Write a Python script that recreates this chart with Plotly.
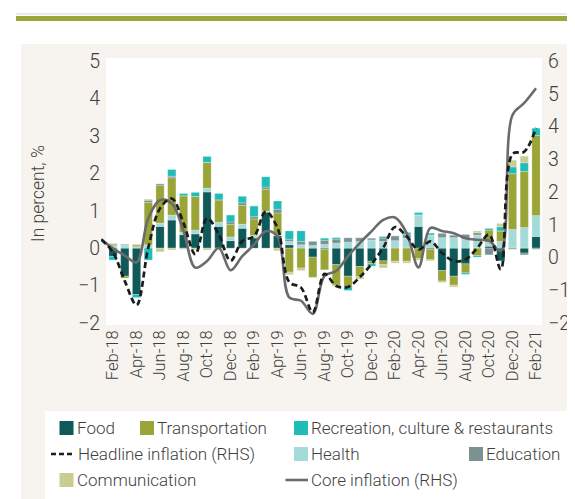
import plotly.graph_objects as go

# ---------------- data ----------------
months = ["Feb-18", "Mar-18", "Apr-18", "May-18", "Jun-18", "Jul-18", "Aug-18", "Sep-18",
          "Oct-18", "Nov-18", "Dec-18", "Jan-19", "Feb-19", "Mar-19", "Apr-19", "May-19",
          "Jun-19", "Jul-19", "Aug-19", "Sep-19", "Oct-19", "Nov-19", "Dec-19", "Jan-20",
          "Feb-20", "Mar-20", "Apr-20", "May-20", "Jun-20", "Jul-20", "Aug-20", "Sep-20",
          "Oct-20", "Nov-20", "Dec-20", "Jan-21", "Feb-21"]
line_months = ["Jan-18"] + months

food = [-0.22, -0.75, -1.24, 0, 0.58, 0.75, 0.36, 0.38, 1.50, 0.58, 0.20, 0.53, 0.27, 0.96, 0.33,
        0.09, 0, -0.24, -0.03, -0.44, -0.75, -0.49, -0.35, -0.34, 0, 0, 0.58, -0.03, -0.60, -0.75,
        -0.42, 0, 0.05, -0.34, 0, -0.13, 0.31]
health = [0.06, 0.08, 0.04, 0.09, 0.09, 0.13, 0.07, 0.10, 0.10, 0.11, 0.10, 0.11, 0.07, 0.03, 0.03,
          0.09, 0.09, 0.07, 0.10, 0.13, 0.16, 0.18, 0.22, 0.18, 0.20, 0.27, 0.31, 0.35, 0.28, 0.28,
          0.24, 0.35, 0.10, 0.18, 0.50, 0.55, 0.56]
transport = [0.03, -0.05, 0.05, 1.13, 1.00, 1.00, 0.97, 0.90, 0.69, 0.60, 0.33, 0.50, 0.44, 0.58, 0.58,
             -0.64, -0.53, -0.54, -0.55, -0.55, -0.29, -0.27, -0.06, -0.10, -0.35, -0.35, -0.28, -0.28,
             -0.28, -0.24, -0.24, -0.20, 0.33, 0.28, 1.49, 1.50, 2.14]
education = [0.02, 0.03, 0, 0.06, 0.05, 0.04, 0, 0, 0, 0, 0.07, 0.07, 0.06, 0.06, 0.10, 0.06, 0.09,
             0.12, 0.11, 0.11, 0.12, 0.10, 0.05, 0.09, 0.13, 0.09, 0, 0, 0.12, 0.07, 0.13, 0.06, -0.18,
             0, -0.03, -0.05, -0.03]
recreation = [-0.10, 0, -0.08, -0.32, 0, 0.18, 0.06, 0.11, 0.16, 0.17, 0.19, 0.18, 0.29, 0.28, 0.22,
              0.22, 0.28, 0, 0.06, 0.04, -0.09, 0, -0.07, 0.04, 0, 0.06, 0.06, 0.05, 0, 0, -0.04, -0.04,
              0.05, 0.11, 0.18, 0.23, 0.20]
communication = [0.02, 0, 0.02, 0.03, -0.10, -0.05, -0.03, -0.04, -0.05, -0.03, 0, 0, 0, 0, -0.07,
                 -0.07, -0.07, 0, 0, -0.03, 0, -0.07, 0, -0.09, -0.05, -0.05, -0.04, -0.03, -0.04, -0.05,
                 0, 0.05, 0, 0.09, 0.18, 0.18, 0]
headline = [0.55, 0.15, -0.72, -1.45, 0.3, 1.5, 1.8, 1.05, 0.1, 1.2, 0.7, -0.1, 0.5, 0.65, 1.4, 0.9,
            -0.75, -0.92, -1.67, -0.5, -0.87, -0.9, -0.6, -0.2, 0.3, 0.93, 0.64, 0.24, 0.49, 0.14,
            -0.11, -0.06, 0.29, 0.7, -0.36, 3.16, 3.23, 3.96]
core = [0.55, 0.28, 0.06, -0.15, 1.2, 1.75, 1.65, 0.8, -0.31, -0.11, 0.29, -0.39, 0.04, 0.39, 0.8,
        0.64, -1.22, -1.32, -1.72, -0.56, -0.41, 0.04, 0.44, 0.8, 1.15, 1.22, 0.74, -0.3, 0.9, 0.81,
        0.74, 0.59, 0.54, 0.51, 0.2, 4.35, 4.72, 5.17]

left_ticks = [-2, -1, 0, 1, 2, 3, 4, 5]
right_ticks = [-2, -1, 0, 1, 2, 3, 4, 5, 6]
tick_months = months[::2]

# ---------------- style ----------------
C_FOOD = "#0f5959"
C_TRANS = "#9aa437"
C_REC = "#20bcb8"
C_HEALTH = "#a4dbd9"
C_EDU = "#7b9292"
C_COMM = "#c9cd94"
C_HEAD = "#1c1c1c"
C_CORE = "#6b6b6b"
TXT = "#3f3f3f"
FONT = "Roboto, Liberation Sans, sans-serif"
WGT = 300

W, H = 575, 499
ML, MR, MT, MB = 93, 41, 53, 184
PW, PH = W - ML - MR, H - MT - MB
X_LEFT = -0.6 - 5 / 11.75


def px(x):
    return (x - ML) / PW


def py(y):
    return (H - MB - y) / PH


bar_x = list(range(len(months)))
line_x = list(range(-1, len(months)))

fig = go.Figure()
series = [("Food", food, C_FOOD), ("Health", health, C_HEALTH), ("Transportation", transport, C_TRANS),
          ("Education", education, C_EDU), ("Recreation, culture & restaurants", recreation, C_REC),
          ("Communication", communication, C_COMM)]
for name, vals, col in series:
    fig.add_trace(go.Bar(x=bar_x, y=vals, name=name, marker_color=col,
                         marker_line=dict(color="rgba(255,255,255,0.6)", width=0.4),
                         showlegend=False))

fig.add_trace(go.Scatter(x=line_x, y=core, yaxis="y2", mode="lines", name="Core inflation (RHS)",
                         line=dict(color=C_CORE, width=2.6, shape="spline", smoothing=1),
                         showlegend=False))
fig.add_trace(go.Scatter(x=line_x, y=headline, yaxis="y2", mode="lines", name="Headline inflation (RHS)",
                         line=dict(color=C_HEAD, width=2.7, dash="6px,3.5px", shape="spline", smoothing=1),
                         showlegend=False))

shapes = [
    dict(type="line", xref="paper", yref="paper", x0=px(8), x1=px(575), y0=py(6), y1=py(6),
         line=dict(color="#d6d6c8", width=1), layer="below"),
    dict(type="rect", xref="paper", yref="paper", x0=px(8), x1=px(575), y0=py(8), y1=py(13),
         fillcolor="#9ba63c", line_width=0, layer="below"),
    dict(type="rect", xref="paper", yref="paper", x0=px(13), x1=px(575), y0=py(36), y1=py(499),
         fillcolor="#f7f3ee", line_width=0, layer="below"),
    dict(type="rect", xref="paper", yref="paper", x0=px(98), x1=px(534), y0=py(50), y1=py(317),
         fillcolor="white", line_width=0, layer="below"),
    dict(type="rect", xref="paper", yref="paper", x0=px(37), x1=px(567), y0=py(403), y1=py(492),
         fillcolor="white", line_width=0, layer="below"),
]

annotations = []
LEG_FS = 17


def legfont():
    return dict(size=LEG_FS, color=TXT, family=FONT, weight=WGT)


def swatch(x, y, color, label):
    shapes.append(dict(type="rect", xref="paper", yref="paper", x0=px(x), x1=px(x + 14),
                       y0=py(y - 7), y1=py(y + 7), fillcolor=color, line_width=0))
    annotations.append(dict(x=px(x + 15), y=py(y), xref="paper", yref="paper", text=label,
                            showarrow=False, xanchor="left", yanchor="middle", font=legfont()))


def linekey(x0, x1, y, color, dash, label):
    shapes.append(dict(type="line", xref="paper", yref="paper", x0=px(x0), x1=px(x1),
                       y0=py(y), y1=py(y), line=dict(color=color, width=2.6, dash=dash)))
    annotations.append(dict(x=px(x1 + 1), y=py(y), xref="paper", yref="paper", text=label,
                            showarrow=False, xanchor="left", yanchor="middle", font=legfont()))


swatch(51.5, 420, C_FOOD, "Food")
swatch(132, 420, C_TRANS, "Transportation")
swatch(286, 420, C_REC, "Recreation, culture &amp; restaurants")
linekey(43, 66.5, 446, C_HEAD, "5px,3px", "Headline inflation (RHS)")
swatch(286, 446, C_HEALTH, "Health")
swatch(461, 446, C_EDU, "Education")
swatch(51.5, 472, C_COMM, "Communication")
linekey(277.5, 300, 472, C_CORE, "solid", "Core inflation (RHS)")

annotations.append(dict(x=px(30), y=py(186), xref="paper", yref="paper", text="In percent, %",
                        textangle=-90, showarrow=False, xanchor="center", yanchor="middle",
                        font=dict(size=17.5, color=TXT, family=FONT, weight=WGT)))

fig.update_layout(
    width=W, height=H,
    margin=dict(l=ML, r=MR, t=MT, b=MB, pad=0),
    paper_bgcolor="white", plot_bgcolor="rgba(0,0,0,0)",
    barmode="relative", bargap=0.3,
    font=dict(family=FONT, color=TXT, weight=WGT),
    xaxis=dict(range=[X_LEFT, 36.51], tickvals=bar_x[::2], ticktext=tick_months, tickangle=-90,
               showgrid=False, zeroline=False, showline=False, ticks="",
               tickfont=dict(size=16.5, color=TXT, family=FONT, weight=WGT), ticklabelstandoff=3),
    yaxis=dict(range=[-2, 5], tickvals=left_ticks, showgrid=False, zeroline=False, showline=False,
               ticks="", tickfont=dict(size=19.5, color=TXT, family=FONT, weight=WGT),
               ticklabelstandoff=0),
    yaxis2=dict(range=[-2, 6], tickvals=right_ticks, overlaying="y", side="right", showgrid=False,
                zeroline=False, showline=False, ticks="",
                tickfont=dict(size=19.5, color=TXT, family=FONT, weight=WGT), ticklabelstandoff=5),
    shapes=shapes,
    annotations=annotations,
    showlegend=False,
)

fig.write_html("out.html")
